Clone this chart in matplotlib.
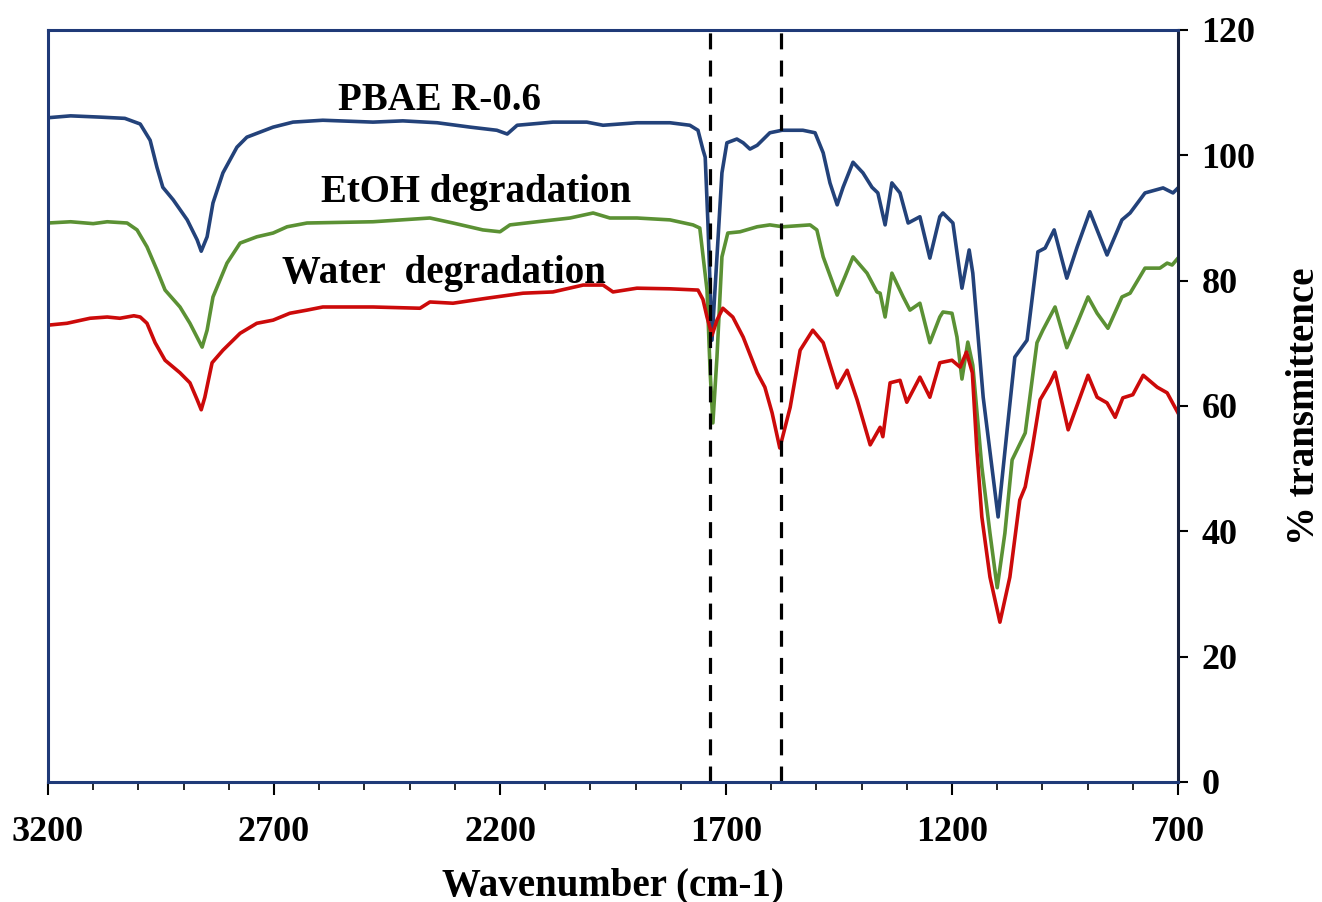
import numpy as np
import matplotlib
matplotlib.use("Agg")
import matplotlib.pyplot as plt
from matplotlib.ticker import MultipleLocator

# FTIR spectra (wavenumber cm-1, % transmittance)
pbae_wn = [3200, 3150, 3085, 3030, 2996, 2974, 2959, 2946, 2923, 2892, 2870, 2861,
           2848, 2835, 2813, 2782, 2760, 2702, 2658, 2592, 2481, 2415, 2339, 2266,
           2207, 2184, 2162, 2083, 2008, 1972, 1897, 1824, 1780, 1762, 1751, 1746,
           1740, 1731, 1720, 1709, 1698, 1676, 1662, 1647, 1631, 1603, 1576, 1530,
           1503, 1485, 1470, 1454, 1441, 1419, 1397, 1377, 1364, 1348, 1333, 1315,
           1297, 1271, 1249, 1227, 1220, 1198, 1178, 1162, 1154, 1131, 1098, 1078,
           1061, 1034, 1010, 994, 974, 946, 923, 895, 857, 824, 806, 773, 733, 711, 700]
pbae_t = [106.0, 106.3, 106.1, 105.9, 105.0, 102.4, 98.1, 94.9, 92.9, 89.7, 86.5, 84.7,
          87.0, 92.4, 97.2, 101.3, 102.9, 104.5, 105.3, 105.6, 105.3, 105.5, 105.2, 104.5,
          104.0, 103.4, 104.8, 105.3, 105.3, 104.8, 105.2, 105.2, 104.8, 104.0, 100.9, 99.7,
          89.2, 70.5, 83.8, 97.2, 102.0, 102.6, 102.0, 101.0, 101.6, 103.6, 104.0, 104.0,
          103.6, 100.4, 95.6, 92.1, 94.9, 98.9, 97.2, 94.9, 94.0, 88.9, 95.6, 94.0,
          89.2, 90.2, 83.6, 90.2, 90.8, 89.2, 78.8, 84.9, 81.2, 61.4, 42.3, 56.2,
          67.8, 70.5, 84.6, 85.2, 88.1, 80.4, 85.4, 91.0, 84.1, 89.7, 90.8, 94.0, 94.8, 94.0, 94.8]

etoh_wn = [3200, 3150, 3100, 3069, 3025, 3003, 2981, 2959, 2941, 2908, 2886, 2859,
           2848, 2835, 2804, 2775, 2738, 2702, 2671, 2627, 2481, 2355, 2304, 2238,
           2200, 2178, 2118, 2045, 1994, 1957, 1897, 1824, 1773, 1758, 1742, 1735,
           1729, 1720, 1709, 1696, 1669, 1631, 1603, 1574, 1514, 1499, 1485, 1454,
           1437, 1419, 1388, 1366, 1359, 1348, 1333, 1308, 1293, 1271, 1249, 1227,
           1220, 1200, 1189, 1178, 1165, 1154, 1134, 1116, 1100, 1083, 1067, 1038,
           1012, 999, 972, 946, 923, 899, 879, 855, 824, 806, 773, 740, 724, 713, 700]
etoh_t = [89.2, 89.4, 89.1, 89.4, 89.2, 88.1, 85.4, 81.7, 78.5, 75.8, 73.2, 69.4,
          72.1, 77.4, 82.8, 86.0, 87.0, 87.6, 88.6, 89.2, 89.4, 90.0, 89.2, 88.1,
          87.8, 88.9, 89.4, 90.0, 90.8, 90.0, 90.0, 89.7, 88.9, 88.4, 78.5, 65.3,
          57.3, 67.8, 83.8, 87.6, 87.8, 88.6, 88.9, 88.6, 88.9, 88.1, 83.8, 77.7,
          80.6, 83.8, 81.2, 78.2, 78.0, 74.2, 81.2, 77.4, 75.3, 76.4, 70.1, 74.2,
          75.0, 74.8, 71.0, 64.3, 70.2, 66.5, 50.3, 39.7, 31.0, 39.7, 51.4, 55.7,
          70.1, 72.1, 75.8, 69.3, 73.2, 77.4, 74.8, 72.4, 77.4, 78.0, 82.0, 82.0, 82.8, 82.5, 83.6]

water_wn = [3200, 3158, 3107, 3069, 3041, 3010, 2996, 2981, 2963, 2941, 2908, 2886,
            2870, 2861, 2853, 2837, 2813, 2775, 2738, 2702, 2665, 2627, 2592, 2481,
            2377, 2355, 2304, 2229, 2149, 2083, 2016, 1972, 1950, 1897, 1824, 1762,
            1751, 1742, 1731, 1720, 1707, 1685, 1662, 1631, 1614, 1598, 1581, 1558,
            1536, 1508, 1485, 1454, 1432, 1410, 1381, 1359, 1353, 1337, 1315, 1300,
            1271, 1249, 1227, 1200, 1182, 1168, 1155, 1145, 1134, 1116, 1094, 1072,
            1050, 1038, 1023, 1005, 983, 972, 943, 899, 879, 857, 839, 822, 800,
            777, 746, 724, 700]
water_t = [72.9, 73.2, 74.0, 74.2, 74.0, 74.4, 74.2, 73.2, 70.1, 67.3, 65.3, 63.7,
           61.0, 59.4, 61.4, 66.9, 68.9, 71.6, 73.2, 73.7, 74.8, 75.3, 75.8, 75.8,
           75.6, 76.6, 76.4, 77.2, 78.0, 78.2, 79.3, 79.3, 78.2, 78.8, 78.7, 78.5,
           77.0, 74.2, 71.3, 73.7, 75.6, 74.2, 71.0, 65.3, 63.0, 58.9, 53.3, 59.8,
           68.9, 72.1, 70.1, 62.9, 65.7, 61.0, 53.8, 56.6, 55.1, 63.7, 64.1, 60.6,
           64.6, 61.4, 66.9, 67.3, 66.2, 68.6, 65.3, 53.0, 42.3, 32.7, 25.5, 32.7,
           45.0, 47.1, 53.0, 61.0, 63.7, 65.4, 56.2, 64.9, 61.4, 60.5, 58.2, 61.3, 61.8,
           64.9, 63.0, 62.1, 58.9]

marker_lines = [1735, 1578]
x_ticks = [3200, 2700, 2200, 1700, 1200, 700]
y_ticks = [0, 20, 40, 60, 80, 100, 120]

serif = ['Liberation Serif', 'DejaVu Serif']
navy = '#1f3a78'

fig = plt.figure(figsize=(13.22, 9.02), dpi=100)
ax = fig.add_axes([48 / 1322, 120 / 902, 1130 / 1322, 752 / 902])

ax.plot(pbae_wn, pbae_t, color='#23427a', lw=2.6, solid_joinstyle='round')
ax.plot(etoh_wn, etoh_t, color='#5b9134', lw=2.6, solid_joinstyle='round')
ax.plot(water_wn, water_t, color='#cc0a0a', lw=2.6, solid_joinstyle='round')

for wn in marker_lines:
    ax.axvline(wn, color='black', lw=2.3, dashes=(5, 3.5))

ax.set_xlim(3200, 700)
ax.set_ylim(0, 120)
ax.set_xticks(x_ticks)
ax.xaxis.set_minor_locator(MultipleLocator(100))
ax.set_yticks(y_ticks)

ax.yaxis.tick_right()
ax.yaxis.set_label_position('right')
ax.tick_params(axis='x', which='major', direction='out', length=9.5, width=1.5, pad=15)
ax.tick_params(axis='x', which='minor', direction='out', length=6, width=1.2)
ax.tick_params(axis='y', which='major', direction='out', length=7, width=1.5, pad=10)

for lab in ax.get_xticklabels() + ax.get_yticklabels():
    lab.set_fontfamily(serif)
    lab.set_fontweight('bold')
    lab.set_fontsize(26)

for side in ['left', 'top', 'bottom']:
    ax.spines[side].set_color(navy)
    ax.spines[side].set_linewidth(2.2)
ax.spines['right'].set_color('#18233f')
ax.spines['right'].set_linewidth(2.2)

ax.set_xlabel('Wavenumber (cm-1)', family=serif, weight='bold', fontsize=28, labelpad=13)
ax.set_ylabel('% transmittence', family=serif, weight='bold', fontsize=28, labelpad=22)

ax.text(2333, 108.8, 'PBAE R-0.6', family=serif, weight='bold', fontsize=28,
        ha='center', va='center')
ax.text(2253, 94.1, 'EtOH degradation', family=serif, weight='bold', fontsize=28,
        ha='center', va='center')
ax.text(2324, 81.2, 'Water  degradation', family=serif, weight='bold', fontsize=28,
        ha='center', va='center')

fig.savefig('out.png', dpi=100)
